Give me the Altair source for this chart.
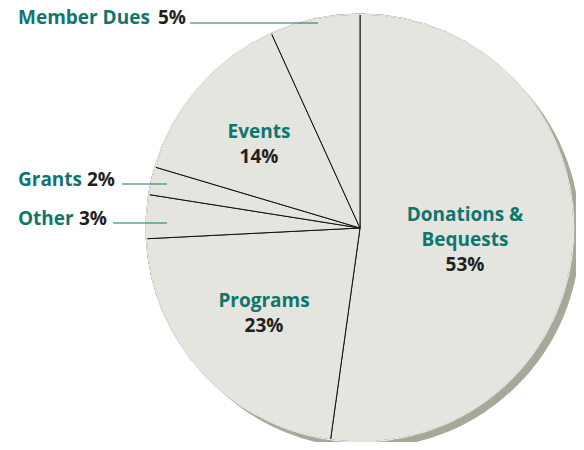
import math
import altair as alt
import pandas as pd

# ---- data ----
categories = ["Donations & Bequests", "Programs", "Other", "Grants", "Events", "Member Dues"]
shares = [52.2, 22.0, 3.3, 2.1, 13.6, 6.8]          # slice sizes
pct_labels = ["53%", "23%", "3%", "2%", "14%", "5%"]  # printed labels
name_lines = [["Donations &", "Bequests"], ["Programs"], ["Other"], ["Grants"], ["Events"], ["Member Dues"]]

# ---- layout / style ----
W, H = 568, 434
CX, CY, R = 352, 220, 214
FILL = "#e4e5df"
SHADOW = "#a7a897"
TEAL = "#0f766e"
DARK = "#231f20"
FONT = "Open Sans"
FS = 19

df = pd.DataFrame({"category": categories, "share": shares, "order": list(range(len(categories)))})
one = pd.DataFrame({"v": [1]})

shadow = alt.Chart(one).mark_arc(
    theta=0, theta2=2 * math.pi, radius=R, fill=SHADOW
).encode(x=alt.value(CX + 6), y=alt.value(CY + 6))

pie = alt.Chart(df).mark_arc(
    radius=R, fill=FILL, stroke="#111111", strokeWidth=1
).encode(
    theta=alt.Theta("share:Q", stack=True),
    order=alt.Order("order:Q"),
    x=alt.value(CX), y=alt.value(CY),
)

edge = alt.Chart(one).mark_arc(
    theta=0, theta2=2 * math.pi, radius=R + 0.6, radius2=R - 1.0, fill=FILL
).encode(x=alt.value(CX), y=alt.value(CY))

layers = [shadow, pie, edge]


def txt(s, x, y, color, align="center"):
    return alt.Chart(one).mark_text(
        text=s, font=FONT, fontSize=FS, fontWeight="bold", color=color,
        align=align, baseline="alphabetic"
    ).encode(x=alt.value(x), y=alt.value(y))


def rule(x1, x2, y):
    return alt.Chart(one).mark_rule(color=TEAL, strokeWidth=1).encode(
        x=alt.value(x1), x2=alt.value(x2), y=alt.value(y)
    )

# inside labels: (index, center x, first baseline y)
inside = [(0, 457, 213), (1, 256, 299), (4, 251, 130)]
for i, x, y in inside:
    for k, line in enumerate(name_lines[i]):
        layers.append(txt(line, x, y + k * 25, TEAL))
    layers.append(txt(pct_labels[i], x, y + len(name_lines[i]) * 25, DARK))

# outside labels: (index, name x, pct x, baseline y, line x1, line x2, line y)
outside = [(5, 10, 150, 16, 182, 310, 15), (3, 10, 79, 178, 114, 159, 176), (2, 10, 71, 217, 105, 159, 215)]
for i, xn, xp, y, l1, l2, ly in outside:
    layers.append(txt(name_lines[i][0], xn, y, TEAL, align="left"))
    layers.append(txt(pct_labels[i], xp, y, DARK, align="left"))
    layers.append(rule(l1, l2, ly))

chart = alt.layer(*layers).properties(
    width=W, height=H, autosize=alt.AutoSizeParams(type="none"), padding=0
).configure_view(stroke=None)

chart.save("out.html", embed_options={"renderer": "svg", "actions": False})
